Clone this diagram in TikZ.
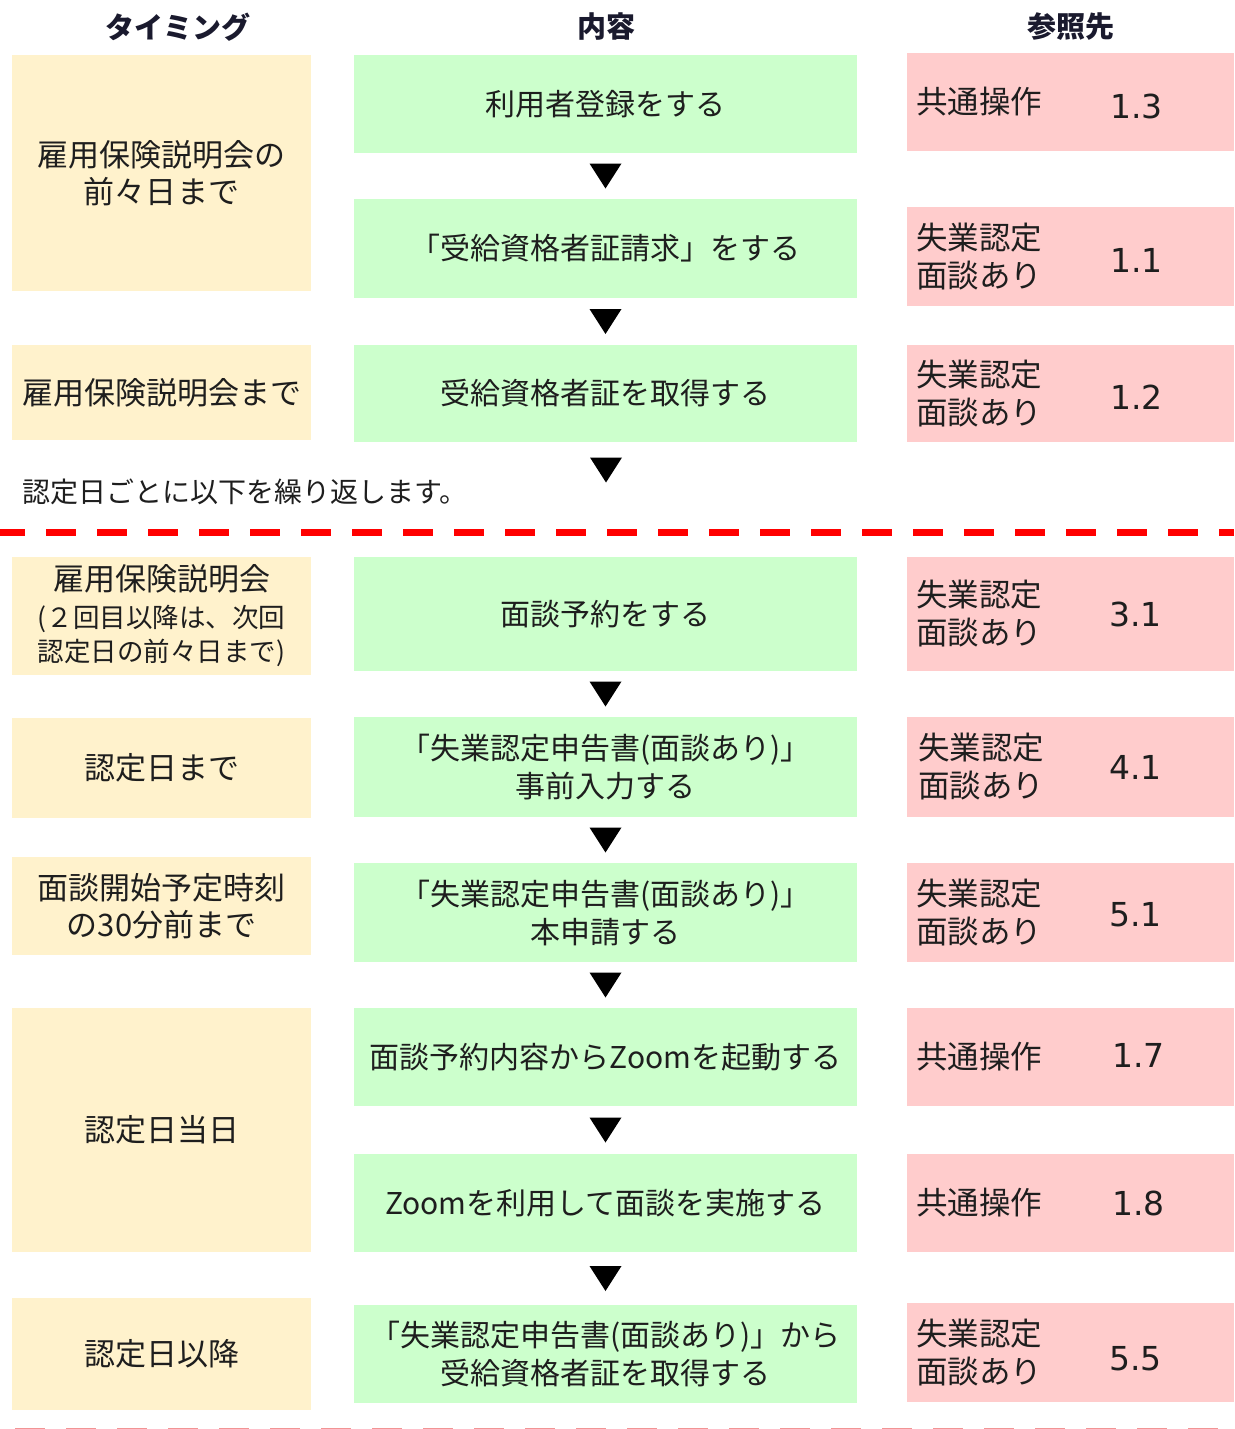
\documentclass[tikz,border=0pt]{standalone}
\usepackage{fontspec}
\setmainfont{Noto Sans CJK JP}
\newfontfamily\numfont{DejaVu Sans}
\usetikzlibrary{calc}
\definecolor{timecol}{HTML}{FFF2CC}
\definecolor{contcol}{HTML}{CCFFCC}
\definecolor{refcol}{HTML}{FFCCCC}
\definecolor{txtcol}{HTML}{1E1E1E}
\definecolor{hdrcol}{HTML}{1A1A2E}
\definecolor{sepred}{HTML}{FF0000}
\definecolor{seplight}{HTML}{F29494}
\begin{document}
\begin{tikzpicture}[x=1pt,y=-1pt,
  txt/.style={font=\fontsize{30}{38}\selectfont, text=txtcol},
  cell/.style={inner sep=0pt, align=center, txt},
  timing/.style={cell, fill=timecol, minimum width=299pt, font=\fontsize{31}{37}\selectfont},
  content/.style={cell, fill=contcol, minimum width=503pt},
  refbox/.style={cell, fill=refcol, minimum width=327pt},
  reflabel/.style={txt, inner sep=0pt, align=left, anchor=west, font=\fontsize{31.5}{38}\selectfont},
  refnum/.style={font=\numfont\fontsize{33}{36}\selectfont, text=txtcol, inner sep=0pt, anchor=west},
  hdr/.style={font=\fontsize{29}{32}\selectfont\bfseries, text=hdrcol, inner sep=0pt},
  sepline/.style={line width=7pt, sepred, dash pattern=on 30pt off 21pt, dash phase=5pt},
  sepline2/.style={line width=4pt, seplight, dash pattern=on 30pt off 21pt, dash phase=36pt}]
\useasboundingbox (0,0) rectangle (1234,1429);
\newcommand\downtri[1]{\fill[black] (#1) ++(-16,-12.5) -- ++(32,0) -- ++(-16,25) -- cycle;}

% headers
\node[hdr] (h1) at (178,27) {タイミング};
\node[hdr] (h2) at (606,27) {内容};
\node[hdr] (h3) at (1071,27) {参照先};

% timing column
\node[timing, minimum height=236pt] (t1) at (161.5,173) {雇用保険説明会の\\前々日まで};
\node[timing, minimum height=95pt] (t2) at (161.5,392.5) {雇用保険説明会まで};
\node[timing, minimum height=118pt, font=\fontsize{26.5}{34}\selectfont] (t3) at (161.5,616)
  {{\fontsize{31}{36}\selectfont 雇用保険説明会}\\[3pt](２回目以降は、次回\\認定日の前々日まで)};
\node[timing, minimum height=100pt] (t4) at (161.5,768) {認定日まで};
\node[timing, minimum height=98pt] (t5) at (161.5,906) {面談開始予定時刻\\の30分前まで};
\node[timing, minimum height=244pt] (t6) at (161.5,1130) {認定日当日};
\node[timing, minimum height=112pt] (t7) at (161.5,1354) {認定日以降};

% content column
\node[content, minimum height=98pt] (m1) at (605.5,104) {利用者登録をする};
\node[content, minimum height=99pt] (m2) at (605.5,248.5) {「受給資格者証請求」をする};
\node[content, minimum height=97pt] (m3) at (605.5,393.5) {受給資格者証を取得する};
\node[content, minimum height=114pt] (m4) at (605.5,614) {面談予約をする};
\node[content, minimum height=100pt] (m5) at (605.5,767) {「失業認定申告書(面談あり)」\\事前入力する};
\node[content, minimum height=99pt] (m6) at (605.5,912.5) {「失業認定申告書(面談あり)」\\本申請する};
\node[content, minimum height=98pt] (m7) at (605.5,1057) {面談予約内容からZoomを起動する};
\node[content, minimum height=98pt] (m8) at (605.5,1203) {Zoomを利用して面談を実施する};
\node[content, minimum height=98pt] (m9) at (605.5,1354) {「失業認定申告書(面談あり)」から\\受給資格者証を取得する};

% reference column
\node[refbox, minimum height=98pt] (r1) at (1070.5,102) {};
\node[refbox, minimum height=99pt] (r2) at (1070.5,256.5) {};
\node[refbox, minimum height=97pt] (r3) at (1070.5,393.5) {};
\node[refbox, minimum height=114pt] (r4) at (1070.5,614) {};
\node[refbox, minimum height=100pt] (r5) at (1070.5,767) {};
\node[refbox, minimum height=99pt] (r6) at (1070.5,912.5) {};
\node[refbox, minimum height=98pt] (r7) at (1070.5,1057) {};
\node[refbox, minimum height=98pt] (r8) at (1070.5,1203) {};
\node[refbox, minimum height=99pt] (r9) at (1070.5,1352.5) {};

\node[reflabel] (r1l) at ($(r1.west)+(9,0)$) {共通操作};
\node[reflabel] (r2l) at ($(r2.west)+(9,0)$) {失業認定\\面談あり};
\node[reflabel] (r3l) at ($(r3.west)+(9,0)$) {失業認定\\面談あり};
\node[reflabel] (r4l) at ($(r4.west)+(9,0)$) {失業認定\\面談あり};
\node[reflabel] (r5l) at ($(r5.west)+(11,0)$) {失業認定\\面談あり};
\node[reflabel] (r6l) at ($(r6.west)+(9,0)$) {失業認定\\面談あり};
\node[reflabel] (r7l) at ($(r7.west)+(9,0)$) {共通操作};
\node[reflabel] (r8l) at ($(r8.west)+(9,0)$) {共通操作};
\node[reflabel] (r9l) at ($(r9.west)+(9,0)$) {失業認定\\面談あり};

\node[refnum] (r1n) at ($(r1.west)+(203,4)$) {1.3};
\node[refnum] (r2n) at ($(r2.west)+(203,4)$) {1.1};
\node[refnum] (r3n) at ($(r3.west)+(203,4)$) {1.2};
\node[refnum] (r4n) at ($(r4.west)+(202,0)$) {3.1};
\node[refnum] (r5n) at ($(r5.west)+(202,0)$) {4.1};
\node[refnum] (r6n) at ($(r6.west)+(202,2)$) {5.1};
\node[refnum] (r7n) at ($(r7.west)+(205,-2)$) {1.7};
\node[refnum] (r8n) at ($(r8.west)+(205,0)$) {1.8};
\node[refnum] (r9n) at ($(r9.west)+(202,6)$) {5.5};

% repeat note and separators
\node[txt, inner sep=0pt, anchor=west, font=\fontsize{28}{34}\selectfont] (note) at (22,492) {認定日ごとに以下を繰り返します。};
\coordinate (s1a) at (0,532); \coordinate (s1b) at (1234,532);
\draw[sepline] (s1a) -- (s1b);
\coordinate (s2a) at (0,1430); \coordinate (s2b) at (1234,1430);
\draw[sepline2] (s2a) -- (s2b);

% flow arrows
\downtri{$(m1.south)!0.5!(m2.north)$}
\downtri{$(m2.south)!0.5!(m3.north)$}
\coordinate (a3) at (606,470);
\downtri{a3}
\downtri{$(m4.south)!0.5!(m5.north)$}
\downtri{$(m5.south)!0.5!(m6.north)$}
\downtri{$(m6.south)!0.5!(m7.north)$}
\downtri{$(m7.south)!0.5!(m8.north)$}
\downtri{$(m8.south)!0.5!(m9.north)$}
\end{tikzpicture}
\end{document}
